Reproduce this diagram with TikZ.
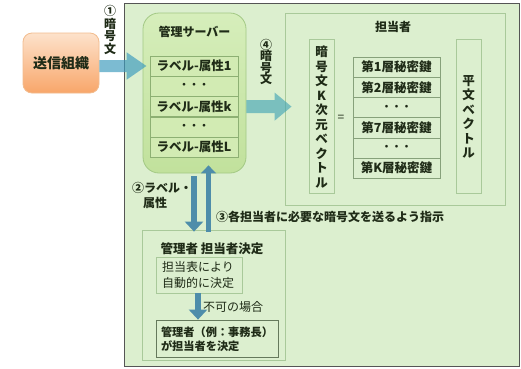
\documentclass[tikz,border=0pt]{standalone}
\usepackage{fontspec}
\setmainfont{Noto Sans CJK JP}
\usetikzlibrary{arrows.meta,calc}
\definecolor{bggreen}{HTML}{DCEFCF}
\definecolor{frameline}{HTML}{555555}
\definecolor{boxline}{HTML}{A9C99A}
\definecolor{rowline}{HTML}{8DB073}
\definecolor{rowfill}{HTML}{D2EBB3}
\definecolor{srvtop}{HTML}{D6EEBB}
\definecolor{srvbot}{HTML}{C1E19C}
\definecolor{srvline}{HTML}{A3C985}
\definecolor{txt}{HTML}{1F2B17}
\definecolor{orgtop}{HTML}{FDE2CB}
\definecolor{orgbot}{HTML}{F8A66A}
\definecolor{orgline}{HTML}{F2BC8E}
\definecolor{arrA}{HTML}{3E9CBE}
\definecolor{arrD}{HTML}{3FA3B5}
\definecolor{arrS}{HTML}{4E8DAA}
\tikzset{
  txtb/.style={font=\fontsize{12}{14}\selectfont\bfseries, text=txt, inner sep=0pt},
  txtn/.style={font=\fontsize{12}{16}\selectfont, text=txt, inner sep=0pt},
  vtxt/.style={font=\fontsize{12.5}{14.5}\selectfont\bfseries, text=txt, inner sep=0pt, align=center},
  rowbox/.style={draw=rowline, fill=rowfill, line width=0.6pt, minimum width=88pt, minimum height=20.2pt, inner sep=0pt, font=\fontsize{12.5}{14}\selectfont\bfseries, text=txt},
  keybox/.style={draw=boxline!80!black, line width=0.6pt, minimum width=87pt, minimum height=20.2pt, inner sep=0pt, font=\fontsize{12.5}{14}\selectfont\bfseries, text=txt},
  thinbox/.style={draw=boxline, line width=0.8pt, inner sep=0pt},
  blkA/.style={line width=12pt, draw=arrA, -{Triangle[width=26pt,length=20pt]}},
  blkD/.style={line width=13pt, draw=arrD, -{Triangle[width=27pt,length=17pt]}},
  blkS/.style={line width=6pt, draw=arrS, -{Triangle[width=18pt,length=10pt]}},
  blkU/.style={line width=5pt, draw=arrS, -{Triangle[width=15pt,length=8pt]}},
}
\newcommand{\dotsrow}{{\fontsize{10}{10}\selectfont\bfseries ・・・}}
\begin{document}
\begin{tikzpicture}[x=1pt,y=-1pt]
\useasboundingbox (0,0) rectangle (521,368);
\fill[white] (0,0) rectangle (521,368);
% outer frame
\draw[frameline, fill=bggreen, line width=1pt] (124,3) rectangle (519.5,366);

% sender
\node[draw=orgline, line width=0.8pt, top color=orgtop, bottom color=orgbot, rounded corners=9pt,
      minimum width=76pt, minimum height=60pt, inner sep=0pt,
      font=\fontsize{14}{15}\selectfont\bfseries, text=txt] (sender) at (61,63) {送信組織};
\node[vtxt, font=\fontsize{12}{12.5}\selectfont\bfseries] (l1) at (110,30) {①\\暗\\号\\文};

% server
\node[draw=srvline, line width=0.8pt, top color=srvtop, bottom color=srvbot, rounded corners=16pt,
      minimum width=103pt, minimum height=160pt, inner sep=0pt] (srv) at (194.5,93) {};
\node[txtb, font=\fontsize{12}{13}\selectfont\bfseries] (srvt) at (194.5,32) {管理サーバー};
\node[rowbox] (r1) at (194,66) {ラベル-属性1};
\node[rowbox] (r2) at (194,86.3) {\dotsrow};
\node[rowbox] (r3) at (194,106.6) {ラベル-属性k};
\node[rowbox] (r4) at (194,126.9) {\dotsrow};
\node[rowbox] (r5) at (194,147.2) {ラベル-属性L};

% tantousha
\node[thinbox, minimum width=220pt, minimum height=192pt] (tan) at (395,109) {};
\node[txtb] (tant) at (393,27) {担当者};
\node[thinbox, minimum width=25pt, minimum height=154pt] (cvec) at (321.5,116) {};
\node[vtxt] (cvect) at (321.5,117) {暗\\号\\文\\K\\次\\元\\ベ\\ク\\ト\\ル};
\node[txtn] (eq) at (341,118) {=};
\node[keybox] (k1) at (396.5,67.1) {第1層秘密鍵};
\node[keybox] (k2) at (396.5,87.3) {第2層秘密鍵};
\node[keybox] (k3) at (396.5,107.5) {\dotsrow};
\node[keybox] (k4) at (396.5,127.7) {第7層秘密鍵};
\node[keybox] (k5) at (396.5,147.9) {\dotsrow};
\node[keybox] (k6) at (396.5,168.1) {第K層秘密鍵};
\node[thinbox, minimum width=25pt, minimum height=154pt] (pvec) at (468.5,116) {};
\node[vtxt] (pvect) at (468.5,117) {平\\文\\ベ\\ク\\ト\\ル};
\node[vtxt, font=\fontsize{12}{11.5}\selectfont\bfseries] (l4) at (266,62) {④\\暗\\号\\文};

% manager
\node[thinbox, minimum width=143pt, minimum height=130pt] (mgr) at (213.5,295) {};
\node[txtb, font=\fontsize{12.5}{14}\selectfont\bfseries] (mgrt) at (212,249) {管理者 担当者決定};
\node[thinbox, minimum width=86pt, minimum height=36pt] (auto) at (199,275) {};
\node[txtn, align=left, font=\fontsize{12}{16}\selectfont] (autot) at (198,275) {担当表により\\自動的に決定};
\node[thinbox, draw=boxline!60!black, minimum width=122pt, minimum height=37pt] (boss) at (217,338.5) {};
\node[txtb, align=left, font=\fontsize{11.2}{14.5}\selectfont\bfseries] (bosst) at (217,339) {管理者（例：事務長）\\が担当者を決定};
\node[txtn, anchor=west] (l5) at (203,307) {不可の場合};

% labels
\node[txtb, align=left, anchor=west, font=\fontsize{12}{15}\selectfont\bfseries] (l2) at (132,195.5) {②ラベル・\\\hspace*{0.9em}属性};
\node[txtb, anchor=west] (l3) at (216,217) {③各担当者に必要な暗号文を送るよう指示};

% arrows
\begin{scope}[transparency group, opacity=0.68]
\draw[blkA] (sender.east |- 0,66) -- ([xshift=4pt]srv.west |- 0,66);
\end{scope}
\begin{scope}[transparency group, opacity=0.62]
\draw[blkD] (srv.east |- r3) -- ([xshift=7pt]tan.west |- r3);
\end{scope}
\draw[blkS] ([yshift=-3pt]srv.south -| 194,0) -- ([yshift=-2pt]mgr.north -| 194,0);
\draw[blkU] ([yshift=-2pt]mgr.north -| 208.5,0) -- ([yshift=8pt]srv.south -| 208.5,0);
\draw[blkS] (auto.south -| 198,0) -- (boss.north -| 198,0);
\end{tikzpicture}
\end{document}
